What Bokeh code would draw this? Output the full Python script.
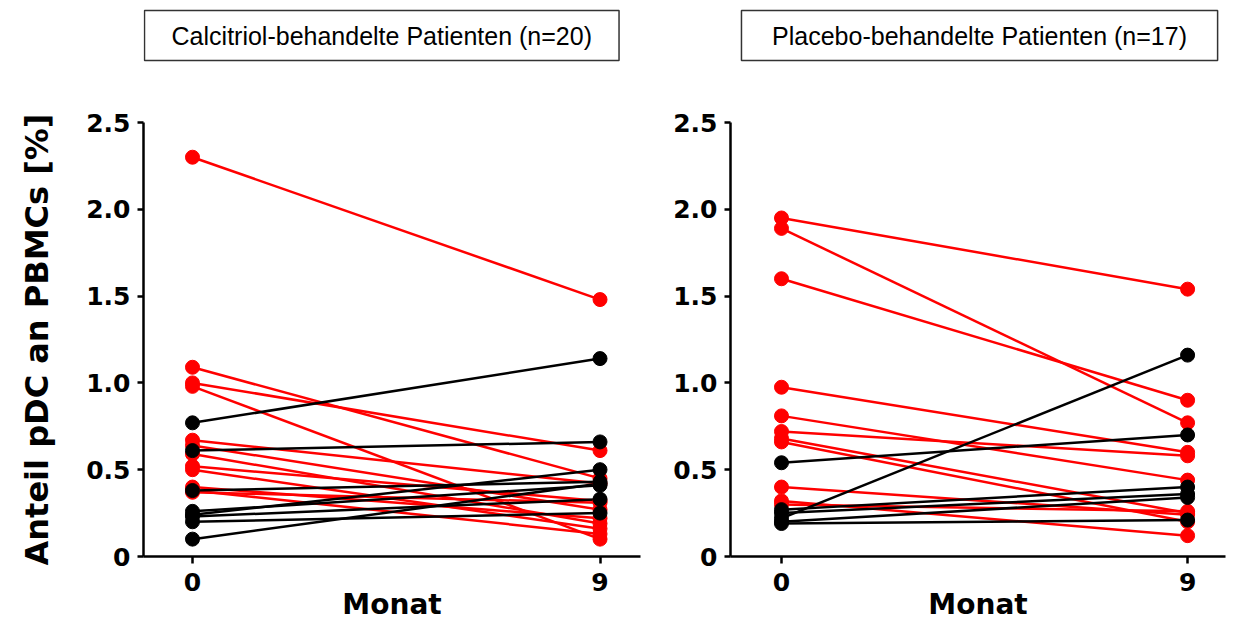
from bokeh.plotting import figure
from bokeh.layouts import row, column
from bokeh.models import ColumnDataSource, Range1d
from bokeh.core.properties import value
from bokeh.embed import file_html
from bokeh.resources import INLINE

# ---------------- data ----------------
months = [0, 9]
y_ticks = [0, 0.5, 1.0, 1.5, 2.0, 2.5]
y_tick_labels = {0: "0", 0.5: "0.5", 1: "1.0", 1.5: "1.5", 2: "2.0", 2.5: "2.5"}
x_tick_labels = {0: "0", 9: "9"}
y_title = "Anteil pDC an PBMCs [%]"
x_title = "Monat"

calc_title = "Calcitriol-behandelte Patienten (n=20)"
calc_m0 = [2.30, 1.09, 1.00, 0.98, 0.67, 0.64, 0.59, 0.52, 0.50, 0.40, 0.37, 0.38,
           0.77, 0.61, 0.38, 0.26, 0.24, 0.20, 0.10, 0.23]
calc_m9 = [1.48, 0.45, 0.61, 0.10, 0.42, 0.27, 0.19, 0.32, 0.16, 0.22, 0.31, 0.13,
           1.14, 0.66, 0.43, 0.41, 0.50, 0.25, 0.42, 0.33]
calc_resp = ["down"] * 12 + ["up"] * 8

plac_title = "Placebo-behandelte Patienten (n=17)"
plac_m0 = [1.95, 1.89, 1.60, 0.975, 0.81, 0.72, 0.68, 0.66, 0.40, 0.32, 0.30,
           0.54, 0.27, 0.25, 0.22, 0.20, 0.19]
plac_m9 = [1.54, 0.77, 0.90, 0.60, 0.44, 0.58, 0.25, 0.20, 0.24, 0.12, 0.26,
           0.70, 0.40, 0.36, 1.16, 0.34, 0.21]
plac_resp = ["down"] * 11 + ["up"] * 6

COLORS = {"down": "#ff0000", "up": "#000000"}
FONT_AX = "DejaVu Sans"
FONT_TITLE = "Liberation Sans"


def title_box(title, x_start, x_end, box_x0, box_x1, width, border_left, border_right):
    t = figure(width=width, height=100,
               x_range=Range1d(x_start, x_end), y_range=Range1d(0, 100),
               output_backend="svg", toolbar_location=None,
               x_axis_type=None, y_axis_type=None,
               min_border_left=border_left, min_border_right=border_right,
               min_border_top=0, min_border_bottom=0)
    t.outline_line_color = None
    t.grid.visible = False
    t.quad(left=[box_x0], right=[box_x1], top=[90], bottom=[40],
           fill_color=None, line_color="#333333", line_width=1.5)
    t.text(x=[(box_x0 + box_x1) / 2], y=[65], text=[title],
           text_align="center", text_baseline="middle",
           text_font=value(FONT_TITLE), text_font_size="25px", text_color="black")
    return t


def panel(m0, m9, resp, x_start, x_end, width, border_left, border_right, ylabel):
    p = figure(width=width, height=523,
               x_range=Range1d(x_start, x_end), y_range=Range1d(0, 2.5),
               output_backend="svg", toolbar_location=None,
               min_border_left=border_left, min_border_right=border_right,
               min_border_top=22, min_border_bottom=67)
    p.outline_line_color = None
    p.grid.visible = False

    n = len(m0)
    for grp in ["down", "up"]:
        idx = [i for i in range(n) if resp[i] == grp]
        src = ColumnDataSource(dict(x0=[months[0]] * len(idx), x1=[months[1]] * len(idx),
                                    y0=[m0[i] for i in idx], y1=[m9[i] for i in idx]))
        p.segment(x0="x0", y0="y0", x1="x1", y1="y1", source=src,
                  line_color=COLORS[grp], line_width=2.5)
    for grp in ["down", "up"]:
        idx = [i for i in range(n) if resp[i] == grp]
        p.scatter(x=[months[0]] * len(idx) + [months[1]] * len(idx),
                  y=[m0[i] for i in idx] + [m9[i] for i in idx],
                  size=14, fill_color=COLORS[grp], line_color=COLORS[grp])

    for ax in p.axis:
        ax.axis_line_width = 2.5
        ax.major_tick_line_width = 2.5
        ax.major_tick_out = 7
        ax.major_tick_in = 0
        ax.minor_tick_out = 0
        ax.minor_tick_in = 0
        ax.major_label_text_font = FONT_AX
        ax.major_label_text_font_style = "bold"
        ax.major_label_text_font_size = "25px"
        ax.major_label_text_color = "black"

    p.yaxis.ticker = y_ticks
    p.yaxis.major_label_overrides = y_tick_labels
    p.yaxis.major_tick_out = 6
    p.yaxis.major_label_standoff = 7

    p.xaxis.ticker = months
    p.xaxis.major_label_overrides = x_tick_labels
    p.xaxis.major_label_standoff = 9
    p.xaxis.axis_label = x_title
    p.xaxis.axis_label_text_font = FONT_AX
    p.xaxis.axis_label_text_font_style = "bold"
    p.xaxis.axis_label_text_font_size = "28px"
    p.xaxis.axis_label_text_color = "black"
    p.xaxis.axis_label_standoff = -6

    if ylabel:
        p.yaxis.axis_label = ylabel
        p.yaxis.axis_label_text_font = FONT_AX
        p.yaxis.axis_label_text_font_style = "bold"
        p.yaxis.axis_label_text_font_size = "32px"
        p.yaxis.axis_label_text_color = "black"
        p.yaxis.axis_label_standoff = 27
    return p


L_X = (-1.082, 9.894)
R_X = (-1.13, 9.84)

left = column(
    title_box(calc_title, *L_X, -1.06, 9.42, width=650, border_left=143, border_right=10),
    panel(calc_m0, calc_m9, calc_resp, *L_X, width=650, border_left=143, border_right=10,
          ylabel=y_title),
    spacing=0)
right = column(
    title_box(plac_title, *R_X, -0.887, 9.665, width=580, border_left=80, border_right=5),
    panel(plac_m0, plac_m9, plac_resp, *R_X, width=580, border_left=80, border_right=5,
          ylabel=None),
    spacing=0)

layout = row(left, right, spacing=0)
open("out.html", "w").write(file_html(layout, INLINE))
